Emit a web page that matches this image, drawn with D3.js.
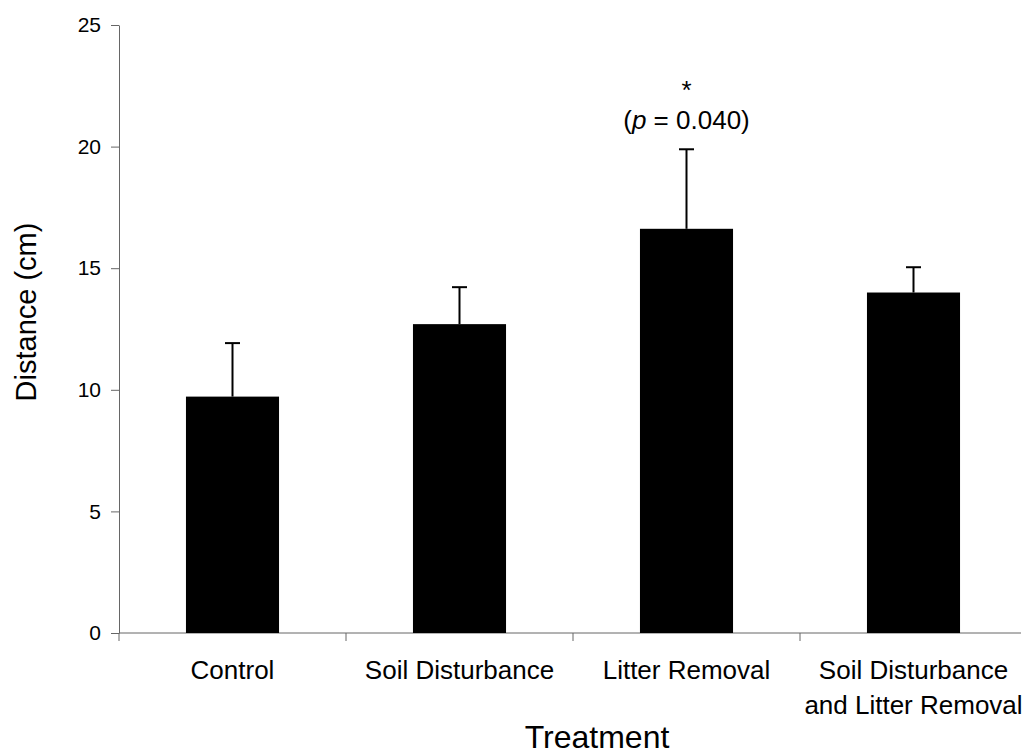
<!DOCTYPE html>
<meta charset="utf-8">
<style>
body { margin: 0; background: #fff; }
text { font-family: "Liberation Sans", Arial, sans-serif; fill: #000; }
.axis path, .axis line { stroke: #666; stroke-width: 1; }
.axis text { font-size: 21px; }
.cat { font-size: 26px; }
.bar { fill: #000; }
.err { stroke: #000; stroke-width: 2; }
</style>
<svg width="1027" height="755"></svg>
<script src="https://d3js.org/d3.v7.min.js"></script>
<script>

var treatments = ["Control", "Soil Disturbance", "Litter Removal", "Soil Disturbance and Litter Removal"];
var labelLines = [["Control"], ["Soil Disturbance"], ["Litter Removal"], ["Soil Disturbance", "and Litter Removal"]];
var means = [9.72, 12.70, 16.62, 14.00];
var errors = [2.20, 1.52, 3.27, 1.04];
var yTicks = [0, 5, 10, 15, 20, 25];

var svg = d3.select("svg"),
    margin = {top: 25, right: 0, bottom: 122, left: 119},
    width = +svg.attr("width") - margin.left - margin.right,
    height = +svg.attr("height") - margin.top - margin.bottom;

var x = d3.scaleBand().domain(treatments).range([0, width]).padding(0);
var y = d3.scaleLinear().domain([0, 25]).range([height, 0]);
var barW = x.bandwidth() * 0.41;

var g = svg.append("g")
    .attr("transform", "translate(" + margin.left + "," + margin.top + ")");

// y axis
g.append("g")
    .attr("class", "axis axis--y")
    .call(d3.axisLeft(y).tickValues(yTicks).tickSize(8).tickPadding(10).tickSizeOuter(0));

// x axis: line plus ticks on category boundaries
var xAxis = g.append("g").attr("class", "axis axis--x");
xAxis.append("line")
    .attr("x1", 0).attr("x2", width - 6)
    .attr("y1", height).attr("y2", height);
xAxis.selectAll(".tick")
    .data(treatments)
  .enter().append("line")
    .attr("x1", function(d) { return x(d); })
    .attr("x2", function(d) { return x(d); })
    .attr("y1", height).attr("y2", height + 8);

// bars
g.selectAll(".bar")
    .data(treatments)
  .enter().append("rect")
    .attr("class", "bar")
    .attr("x", function(d) { return x(d) + (x.bandwidth() - barW) / 2; })
    .attr("width", barW)
    .attr("y", function(d, i) { return y(means[i]); })
    .attr("height", function(d, i) { return height - y(means[i]); });

// error bars (upper only)
var eb = g.selectAll(".eb")
    .data(treatments)
  .enter().append("g")
    .attr("class", "eb")
    .attr("transform", function(d) { return "translate(" + (x(d) + x.bandwidth() / 2) + ",0)"; });
eb.append("line")
    .attr("class", "err")
    .attr("y1", function(d, i) { return y(means[i]); })
    .attr("y2", function(d, i) { return y(means[i] + errors[i]); });
eb.append("line")
    .attr("class", "err")
    .attr("x1", -7.5).attr("x2", 7.5)
    .attr("y1", function(d, i) { return y(means[i] + errors[i]); })
    .attr("y2", function(d, i) { return y(means[i] + errors[i]); });

// category labels
g.selectAll(".cat")
    .data(treatments)
  .enter().append("text")
    .attr("class", "cat")
    .attr("text-anchor", "middle")
    .attr("x", function(d) { return x(d) + x.bandwidth() / 2; })
    .attr("y", height + 46)
    .each(function(d, i) {
      var t = d3.select(this);
      labelLines[i].forEach(function(line, k) {
        t.append("tspan")
          .attr("x", x(d) + x.bandwidth() / 2)
          .attr("dy", k === 0 ? 0 : 35)
          .text(line);
      });
    });

// significance annotation
var sigX = x("Litter Removal") + x.bandwidth() / 2;
var capY = y(means[2] + errors[2]);
g.append("text")
    .attr("class", "cat")
    .attr("text-anchor", "middle")
    .attr("x", sigX)
    .attr("y", capY - 50)
    .text("*");
var p = g.append("text")
    .attr("class", "cat")
    .attr("text-anchor", "middle")
    .attr("x", sigX)
    .attr("y", capY - 20);
p.append("tspan").text("(");
p.append("tspan").attr("font-style", "italic").text("p");
p.append("tspan").text(" = 0.040)");

// axis titles
svg.append("text")
    .attr("text-anchor", "middle")
    .style("font-size", "32px")
    .attr("x", 597)
    .attr("y", 748)
    .text("Treatment");

svg.append("text")
    .attr("text-anchor", "middle")
    .style("font-size", "29px")
    .attr("transform", "translate(36,312) rotate(-90)")
    .text("Distance (cm)");

</script>
